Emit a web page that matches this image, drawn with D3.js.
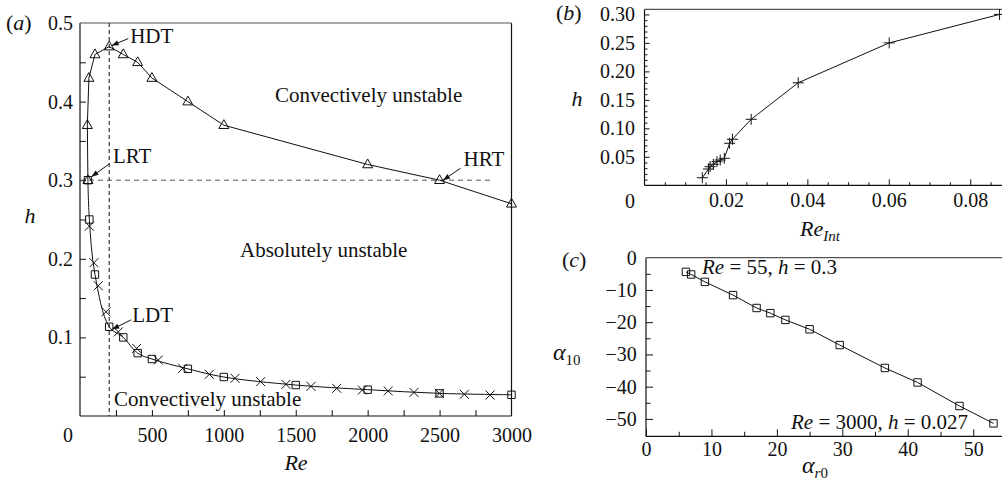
<!DOCTYPE html>
<html><head><meta charset="utf-8">
<script src="https://cdn.jsdelivr.net/npm/d3@7"></script>
<style>
body{margin:0;background:#fff}
svg text{font-family:"Liberation Serif","DejaVu Serif",serif !important;fill:#111}
</style>
</head><body><svg id="c" width="1002" height="496"></svg>
<script>
// ---------- Panel (a) data ----------
const reTri = [55, 51, 62, 104, 203, 301, 401, 500, 750, 1000, 2000, 2500, 3000];
const hTri  = [0.30, 0.37, 0.43, 0.46, 0.47, 0.46, 0.45, 0.43, 0.40, 0.37, 0.32, 0.30, 0.27];
const reSq  = [55, 65, 104, 203, 301, 401, 500, 750, 1000, 1500, 2000, 2500, 3000];
const hSq   = [0.30, 0.25, 0.18, 0.1135, 0.100, 0.080, 0.0725, 0.060, 0.0496, 0.0394, 0.0335, 0.0288, 0.027];
const reCross = [65, 97, 127, 181, 266, 394, 544, 714, 899, 1078, 1256, 1432, 1606, 1785, 1963, 2143, 2322, 2498, 2672, 2851];
const hCross  = [0.2415, 0.195, 0.1657, 0.1326, 0.107, 0.086, 0.0712, 0.0606, 0.053, 0.048, 0.0437, 0.0403, 0.0377, 0.0352, 0.033, 0.0318, 0.030, 0.0288, 0.0276, 0.0267];
const aXTicks = [0, 500, 1000, 1500, 2000, 2500, 3000];
const aYTicks = [0.1, 0.2, 0.3, 0.4, 0.5];
const reHDT = 203, hLine = 0.3, reLineEnd = 2870;
const annoLabels = ["HDT", "LRT", "LDT", "HRT"];
const annoRe = [203, 55, 203, 2500];
const annoH  = [0.47, 0.30, 0.1135, 0.30];
const regionLabels = ["Convectively unstable", "Absolutely unstable", "Convectively unstable"];

// ---------- Panel (b) data ----------
const reInt = [0.0142, 0.0157, 0.0161, 0.0169, 0.0178, 0.0186, 0.0196, 0.0209, 0.0216, 0.0262, 0.03775, 0.0601, 0.0872];
const hB    = [0.0133, 0.0286, 0.0327, 0.0369, 0.0415, 0.0444, 0.0474, 0.0738, 0.0808, 0.1159, 0.180, 0.250, 0.300];
const bXTicks = [0.02, 0.04, 0.06, 0.08];
const bYTicks = [0.05, 0.10, 0.15, 0.20, 0.25, 0.30];

// ---------- Panel (c) data ----------
const alphaR0 = [6.1, 6.9, 9.0, 13.3, 16.9, 19.0, 21.3, 25.0, 29.6, 36.5, 41.5, 47.9, 53.1];
const alpha10 = [-4.4, -5.2, -7.5, -11.6, -15.6, -17.2, -19.3, -22.2, -27.1, -34.2, -38.7, -46.0, -51.4];
const cXTicks = [0, 10, 20, 30, 40, 50];
const cYTicks = [0, -10, -20, -30, -40, -50];
const cNotes = [["Re", " = 55, ", "h", " = 0.3"], ["Re", " = 3000, ", "h", " = 0.027"]];

const svg = d3.select("#c");
const FS = 20;   // tick labels
const LS = 21;   // other labels
const INK = "#111";
const SERIF = '"Liberation Serif","DejaVu Serif",serif';

function styleAxis(g) {
  g.attr("font-size", FS).attr("font-family", SERIF);
  g.select(".domain").remove();
  g.selectAll("line").attr("stroke", INK);
  g.selectAll("text").attr("fill", INK).style("font-family", SERIF);
}
function frame(x0, x1, y0, y1, sides) {
  const s = svg.append("g").attr("stroke", INK).attr("stroke-width", 1.2).attr("fill", "none");
  if (sides.includes("l")) s.append("line").attr("x1", x0).attr("x2", x0).attr("y1", y0).attr("y2", y1);
  if (sides.includes("r")) s.append("line").attr("x1", x1).attr("x2", x1).attr("y1", y0).attr("y2", y1);
  if (sides.includes("t")) s.append("line").attr("x1", x0).attr("x2", x1).attr("y1", y0).attr("y2", y0).attr("stroke", "#555");
  if (sides.includes("b")) s.append("line").attr("x1", x0).attr("x2", x1).attr("y1", y1).attr("y2", y1);
}
function range(a, b, step) { const r = []; for (let v = a; v <= b + step * 1e-6; v += step) r.push(+v.toFixed(6)); return r; }
function isIn(v, arr) { return arr.some(t => Math.abs(t - v) < 1e-9); }

function richText(x, y, parts, anchor, size) {
  const t = svg.append("text").attr("x", x).attr("y", y).attr("font-size", size || LS)
    .attr("text-anchor", anchor || "start").style("font-family", SERIF);
  parts.forEach(p => {
    const ts = t.append("tspan").text(p.t);
    if (p.i) ts.attr("font-style", "italic");
    if (p.sub) ts.attr("font-size", 15).attr("dy", p.dy === undefined ? 5 : p.dy);
  });
  return t;
}
function plainText(x, y, s, size, anchor) {
  return svg.append("text").attr("x", x).attr("y", y).attr("font-size", size).attr("text-anchor", anchor || "start")
    .style("font-family", SERIF).text(s);
}

const tri = "M0,-5.5L5,3.3L-5,3.3Z";
const sq = "M-3.7,-3.7H3.7V3.7H-3.7Z";
const crs = "M-4.5,-4.5L4.5,4.5M-4.5,4.5L4.5,-4.5";
const pls = "M-5.5,0H5.5M0,-5.5V5.5";
function markers(xs, ys, sx, sy, path) {
  svg.append("g").selectAll("path").data(xs.map((d, i) => [d, ys[i]])).join("path")
    .attr("d", path).attr("transform", d => `translate(${sx(d[0])},${sy(d[1])})`)
    .attr("fill", "none").attr("stroke", INK).attr("stroke-width", 1);
}
function arrow(x1, y1, x2, y2) {
  svg.append("line").attr("x1", x1).attr("y1", y1).attr("x2", x2).attr("y2", y2).attr("stroke", INK).attr("stroke-width", 1);
  const a = Math.atan2(y2 - y1, x2 - x1), L = 7, W = 2.6;
  const bx = x2 - L * Math.cos(a), by = y2 - L * Math.sin(a);
  const px = -Math.sin(a) * W, py = Math.cos(a) * W;
  svg.append("path").attr("d", `M${x2},${y2}L${bx + px},${by + py}L${bx - px},${by - py}Z`).attr("fill", INK);
}

// ================= Panel (a) =================
{
  const x = d3.scaleLinear().domain([0, 3000]).range([80, 511.5]);
  const y = d3.scaleLinear().domain([0, 0.5]).range([416, 23]);
  frame(80, 511.5, 23, 416, "lrtb");
  svg.append("g").attr("transform", "translate(80,0)")
    .call(d3.axisLeft(y).tickValues(range(0.05, 0.45, 0.05)).tickSizeInner(-6).tickSizeOuter(0).tickPadding(7)
      .tickFormat(v => isIn(v, aYTicks) ? d3.format(".1f")(v) : ""))
    .call(styleAxis);
  svg.append("g").attr("transform", "translate(80,0)")
    .call(d3.axisLeft(y).tickValues([0.5]).tickSize(0).tickPadding(7).tickFormat(d3.format(".1f"))).call(styleAxis);
  svg.append("g").attr("transform", "translate(0,416)")
    .call(d3.axisBottom(x).tickValues(range(250, 2750, 250)).tickSizeInner(-6).tickSizeOuter(0).tickPadding(12)
      .tickFormat(v => isIn(v, aXTicks) ? d3.format("d")(v) : ""))
    .call(styleAxis);
  svg.append("g").attr("transform", "translate(0,416)")
    .call(d3.axisBottom(x).tickValues([3000]).tickSize(0).tickPadding(12).tickFormat(d3.format("d"))).call(styleAxis);
  plainText(68, 442, String(aXTicks[0]), FS, "middle");

  // dashed guide lines
  svg.append("line").attr("x1", x(reHDT)).attr("x2", x(reHDT)).attr("y1", y(0.5)).attr("y2", y(0))
    .attr("stroke", INK).attr("stroke-width", 1).attr("stroke-dasharray", "4,3");
  svg.append("line").attr("x1", x(0)).attr("x2", x(reLineEnd)).attr("y1", y(hLine)).attr("y2", y(hLine))
    .attr("stroke", "#555").attr("stroke-width", 1).attr("stroke-dasharray", "5,4");

  // curves
  const lineU = d3.line().x(d => x(d[0])).y(d => y(d[1]));
  svg.append("path").attr("d", lineU(reTri.map((d, i) => [d, hTri[i]])))
    .attr("fill", "none").attr("stroke", INK).attr("stroke-width", 1);
  const lineL = d3.line().x(d => x(d[0])).y(d => y(d[1])).curve(d3.curveCatmullRom.alpha(0.5));
  svg.append("path").attr("d", lineL(reSq.map((d, i) => [d, hSq[i]])))
    .attr("fill", "none").attr("stroke", INK).attr("stroke-width", 1);

  markers(reTri, hTri, x, y, tri);
  markers(reSq, hSq, x, y, sq);
  markers(reCross, hCross, x, y, crs);

  // annotations: text offset / arrow tail offset relative to anchor
  const offs = [[21, -4, 19, -8], [25, -17, 21, -16], [23, -5, 22, -7], [24, -14, 21, -12]];
  const heads = [[2.5, -1], [3.5, -3.5], [3, 2.5], [3.5, 0]];
  annoLabels.forEach((lab, i) => {
    const px = x(annoRe[i]), py = y(annoH[i]);
    plainText(px + offs[i][0], py + offs[i][1], lab, LS);
    arrow(px + offs[i][2], py + offs[i][3], px + heads[i][0], py + heads[i][1]);
  });

  plainText(275, 102, regionLabels[0], LS);
  plainText(240, 257, regionLabels[1], LS);
  plainText(114, 406, regionLabels[2], LS);

  richText(6, 30, [{t: "("}, {t: "a", i: 1}, {t: ")"}], "start", 22);
  richText(30, 223, [{t: "h", i: 1}], "middle", 22);
  richText(296, 470, [{t: "Re", i: 1}], "middle", 22);
}

// ================= Panel (b) =================
{
  const x = d3.scaleLinear().domain([0, 0.0878]).range([644.5, 1002]);
  const y = d3.scaleLinear().domain([0, 0.309]).range([185.3, 9.3]);
  frame(644.5, 1002, 9.3, 185.3, "ltb");
  svg.append("g").attr("transform", "translate(644.5,0)")
    .call(d3.axisLeft(y).tickValues(range(0.01, 0.30, 0.01).filter(v => !isIn(v, bYTicks))).tickSizeInner(-3).tickSizeOuter(0).tickFormat(""))
    .call(styleAxis);
  svg.append("g").attr("transform", "translate(644.5,0)")
    .call(d3.axisLeft(y).tickValues(bYTicks).tickSizeInner(-5).tickSizeOuter(0).tickPadding(9.5).tickFormat(d3.format(".2f")))
    .call(styleAxis);
  svg.append("g").attr("transform", "translate(0,185.3)")
    .call(d3.axisBottom(x).tickValues(range(0.005, 0.085, 0.005).filter(v => !isIn(v, bXTicks))).tickSizeInner(-3).tickSizeOuter(0).tickFormat(""))
    .call(styleAxis);
  svg.append("g").attr("transform", "translate(0,185.3)")
    .call(d3.axisBottom(x).tickValues(bXTicks).tickSizeInner(-6).tickSizeOuter(0).tickPadding(8).tickFormat(d3.format(".2f")))
    .call(styleAxis);
  plainText(630, 208, "0", FS, "middle");

  const ln = d3.line().x(d => x(d[0])).y(d => y(d[1]));
  svg.append("path").attr("d", ln(reInt.map((d, i) => [d, hB[i]])))
    .attr("fill", "none").attr("stroke", INK).attr("stroke-width", 1);
  markers(reInt, hB, x, y, pls);

  richText(556, 20, [{t: "("}, {t: "b", i: 1}, {t: ")"}], "start", 22);
  richText(577, 106, [{t: "h", i: 1}], "middle", 22);
  richText(800, 236, [{t: "Re", i: 1}, {t: "Int", i: 1, sub: 1, dy: 5}], "start", 22);
}

// ================= Panel (c) =================
{
  const x = d3.scaleLinear().domain([0, 54.4]).range([646, 1002]);
  const y = d3.scaleLinear().domain([-55.4, 0]).range([436.3, 257.7]);
  frame(646, 1002, 257.7, 436.3, "ltb");
  svg.append("g").attr("transform", "translate(646,0)")
    .call(d3.axisLeft(y).tickValues([-5, -15, -25, -35, -45]).tickSizeInner(-4.5).tickSizeOuter(0).tickFormat(""))
    .call(styleAxis);
  svg.append("g").attr("transform", "translate(646,0)")
    .call(d3.axisLeft(y).tickValues(cYTicks.filter(v => v !== 0)).tickSizeInner(-7).tickSizeOuter(0).tickPadding(9.3)
      .tickFormat(v => "\u2212" + Math.abs(v)))
    .call(styleAxis);
  svg.append("g").attr("transform", "translate(646,0)")
    .call(d3.axisLeft(y).tickValues([0]).tickSize(0).tickPadding(9.3).tickFormat(d3.format("d")))
    .call(styleAxis);
  svg.append("g").attr("transform", "translate(0,436.3)")
    .call(d3.axisBottom(x).tickValues([5, 15, 25, 35, 45]).tickSizeInner(-4.5).tickSizeOuter(0).tickFormat(""))
    .call(styleAxis);
  svg.append("g").attr("transform", "translate(0,436.3)")
    .call(d3.axisBottom(x).tickValues(cXTicks).tickSizeInner(-7).tickSizeOuter(0).tickPadding(6).tickFormat(d3.format("d")))
    .call(styleAxis);

  const ln = d3.line().x(d => x(d[0])).y(d => y(d[1]));
  svg.append("path").attr("d", ln(alphaR0.map((d, i) => [d, alpha10[i]])))
    .attr("fill", "none").attr("stroke", INK).attr("stroke-width", 1);
  markers(alphaR0, alpha10, x, y, sq);

  const notePos = [[702, 274], [791, 429]];
  cNotes.forEach((n, i) => richText(notePos[i][0], notePos[i][1],
    [{t: n[0], i: 1}, {t: n[1]}, {t: n[2], i: 1}, {t: n[3]}]));

  richText(562, 267, [{t: "("}, {t: "c", i: 1}, {t: ")"}], "start", 22);
  richText(553, 360, [{t: "\u03B1", i: 1}, {t: "10", sub: 1, dy: 5}], "start", 24);
  richText(802, 473, [{t: "\u03B1", i: 1}, {t: "r", i: 1, sub: 1, dy: 5}, {t: "0", sub: 1, dy: 0}], "start", 24);
}
</script>
</body></html>
